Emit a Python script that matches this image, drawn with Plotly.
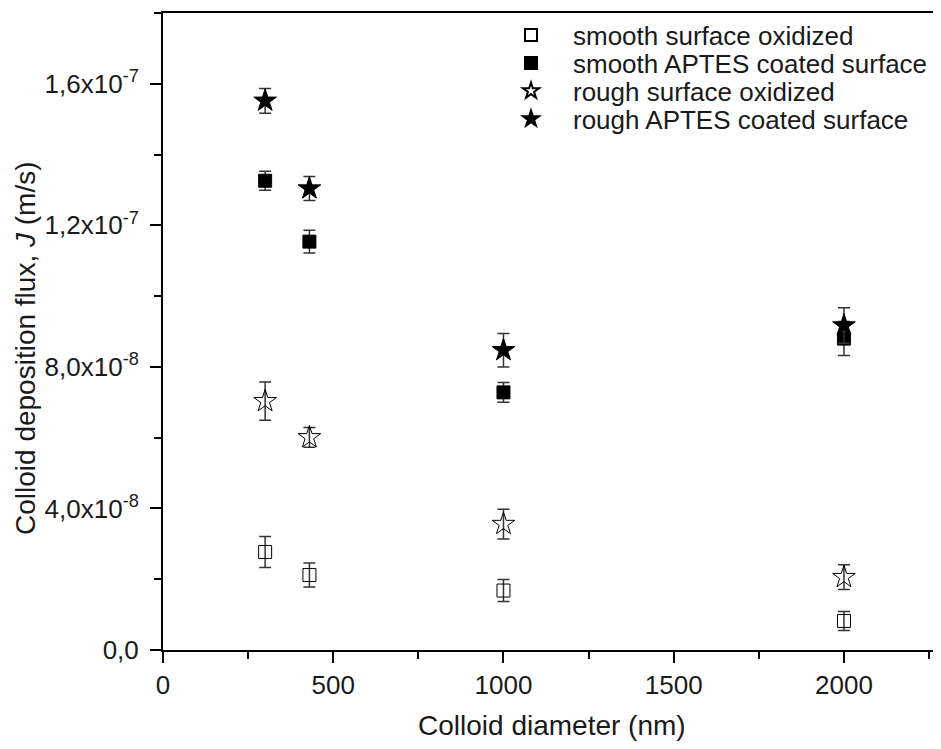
import plotly.graph_objects as go

# Colloid deposition flux vs colloid diameter
diameter = [300, 430, 1000, 2000]

smooth_ox = [2.77e-8, 2.12e-8, 1.68e-8, 8.2e-9]
smooth_ox_err = [4.4e-9, 3.4e-9, 3.1e-9, 2.7e-9]

smooth_aptes = [1.326e-7, 1.154e-7, 7.28e-8, 8.8e-8]
smooth_aptes_err = [2.7e-9, 3.2e-9, 2.8e-9, 4.8e-9]

rough_ox = [7.03e-8, 6.01e-8, 3.56e-8, 2.06e-8]
rough_ox_err = [5.4e-9, 2.8e-9, 4.2e-9, 3.5e-9]

rough_aptes = [1.552e-7, 1.304e-7, 8.47e-8, 9.17e-8]
rough_aptes_err = [3.5e-9, 3.4e-9, 4.7e-9, 5.0e-9]

ytick_vals = [0, 4e-8, 8e-8, 1.2e-7, 1.6e-7]
ytick_text = ["0,0", "4,0x10<sup>-8</sup>", "8,0x10<sup>-8</sup>",
              "1,2x10<sup>-7</sup>", "1,6x10<sup>-7</sup>"]

FONT = "Liberation Sans, Arial, sans-serif"
TXT = "#1a1a1a"

# the page body has an 8px margin, so the figure is placed at (8, 8)
OFF = 8
PLOT_L, PLOT_T, PLOT_B = 163, 13, 650
PLOT_W, PLOT_H = 941 - PLOT_L, PLOT_B - PLOT_T


def px(x):
    return (x - PLOT_L) / PLOT_W


def py(y):
    return (PLOT_B - y) / PLOT_H


series = [
    ("smooth surface oxidized", smooth_ox, smooth_ox_err, "square-open", 13),
    ("smooth APTES coated surface", smooth_aptes, smooth_aptes_err, "square", 13),
    ("rough surface oxidized", rough_ox, rough_ox_err, "star-open", 17),
    ("rough APTES coated surface", rough_aptes, rough_aptes_err, "star", 17),
]
legend_rows = [35, 63, 91, 119]
legend_ids = ["legend", "legend2", "legend3", "legend4"]

fig = go.Figure()

for (name, vals, errs, symbol, size), lg in zip(series, legend_ids):
    fig.add_trace(go.Scatter(
        x=diameter,
        y=vals,
        mode="markers",
        name=name,
        legend=lg,
        marker=dict(symbol=symbol, size=size, color="black",
                    line=dict(color="black", width=1)),
        error_y=dict(type="data", array=errs, visible=True,
                     color="#333333", thickness=1.5, width=6),
    ))

axis_common = dict(
    showline=True, linecolor="black", linewidth=2,
    ticks="outside", ticklen=11, tickwidth=2, tickcolor="black",
    showgrid=False, zeroline=False,
    tickfont=dict(family=FONT, size=26, color=TXT),
)

fig.update_xaxes(
    range=[0, 2285],
    tickvals=[0, 500, 1000, 1500, 2000],
    mirror=True,
    ticklabelstandoff=0,
    minor=dict(ticks="outside", ticklen=7, tickwidth=2, tickcolor="black",
               dtick=250, showgrid=False),
    **axis_common,
)

fig.update_yaxes(
    range=[0, 1.8e-7],
    tickvals=ytick_vals,
    ticktext=ytick_text,
    ticklabelstandoff=6,
    minor=dict(ticks="outside", ticklen=7, tickwidth=2, tickcolor="black",
               dtick=2e-8, showgrid=False),
    **axis_common,
)

fig.add_annotation(
    text="Colloid diameter (nm)", xref="paper", yref="paper",
    x=px(552), y=py(725), xanchor="center", yanchor="middle",
    showarrow=False, font=dict(family=FONT, size=28, color=TXT),
)
fig.add_annotation(
    text="Colloid deposition flux, <i>J</i> (m/s)", xref="paper", yref="paper",
    x=px(25), y=py(349), xanchor="center", yanchor="middle",
    textangle=-90, showarrow=False,
    font=dict(family=FONT, size=28, color=TXT),
)

layout_legends = {}
for lg, row in zip(legend_ids, legend_rows):
    layout_legends[lg] = dict(
        x=px(489), y=py(row), xanchor="left", yanchor="middle",
        bgcolor="rgba(0,0,0,0)", itemwidth=74, itemsizing="constant",
        font=dict(family=FONT, size=26, color=TXT),
    )

fig.update_layout(
    width=941 - OFF, height=749 - OFF,
    margin=dict(l=PLOT_L - OFF, r=0, t=PLOT_T - OFF, b=749 - PLOT_B),
    paper_bgcolor="white", plot_bgcolor="white",
    showlegend=True,
    **layout_legends,
)

fig.write_html("out.html")
